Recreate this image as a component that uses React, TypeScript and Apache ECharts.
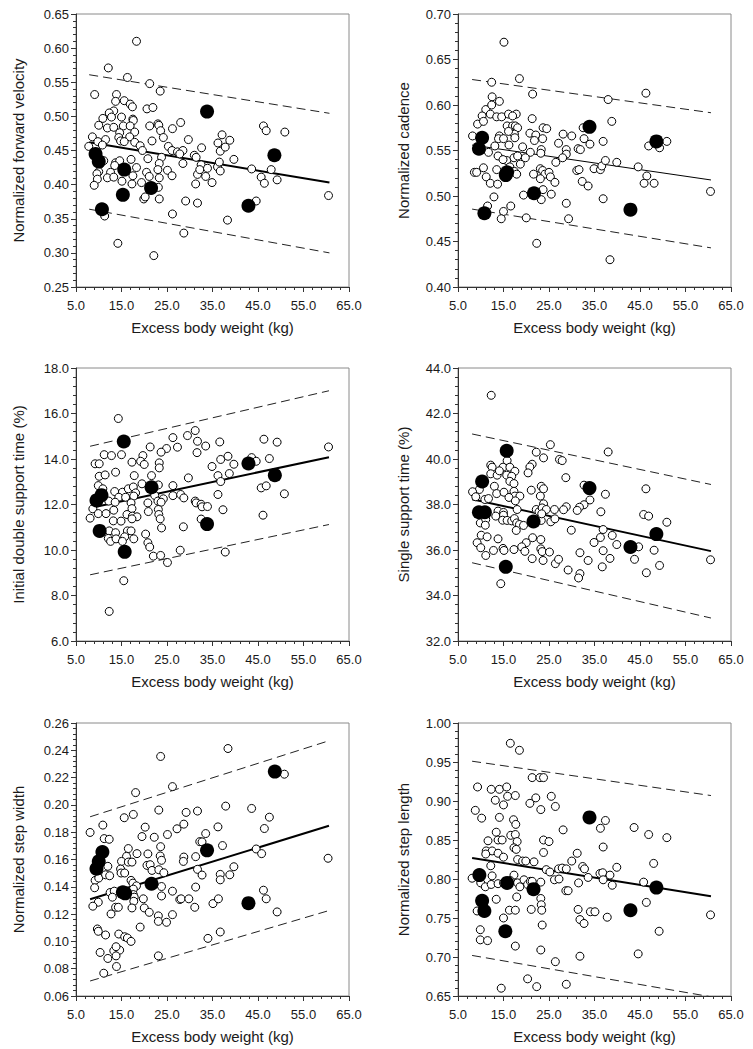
import React, { useEffect, useRef } from 'react';
import * as echarts from 'echarts';

type Pt = [number, number];

// ---------- shared x axis ----------
const xMin = 5;
const xMax = 65;
const xStep = 10;
const xTitle = 'Excess body weight (kg)';

// ---------- Panel 1: Normalized forward velocity ----------
const velTitle = 'Normalized forward velocity';
const velAxis = [0.25, 0.65, 0.05];
const velOpen: Pt[] = [
  [18.3,0.610],[12.1,0.571],[16.3,0.557],[21.2,0.548],[23.5,0.537],[9.1,0.532],[13.9,0.532],[13.7,0.522],[15.6,0.523],[16.9,0.518],
  [17.4,0.514],[20.6,0.511],[21.9,0.513],[13.3,0.508],[12.3,0.505],[10.9,0.497],[12.8,0.499],[15.0,0.499],[17.5,0.496],[17.6,0.494],
  [10.0,0.487],[11.9,0.483],[13.3,0.484],[15.4,0.486],[16.9,0.486],[21.2,0.486],[23.0,0.489],[23.2,0.487],[23.6,0.479],[26.2,0.482],
  [28.0,0.491],[14.6,0.476],[17.9,0.477],[14.4,0.469],[16.8,0.470],[24.2,0.469],[8.6,0.470],[7.8,0.456],[11.5,0.466],[9.8,0.463],
  [14.8,0.464],[15.6,0.463],[17.9,0.462],[21.7,0.464],[10.8,0.458],[19.1,0.457],[19.6,0.450],[25.3,0.456],[26.1,0.450],[27.3,0.448],
  [28.5,0.450],[29.7,0.466],[27.8,0.445],[20.8,0.438],[23.8,0.440],[23.3,0.431],[28.5,0.431],[11.1,0.435],[10.3,0.430],[13.7,0.432],
  [14.6,0.435],[17.1,0.437],[13.5,0.428],[10.0,0.419],[9.6,0.416],[12.6,0.418],[18.3,0.425],[20.5,0.418],[23.0,0.422],[25.1,0.421],
  [21.1,0.412],[23.3,0.410],[26.1,0.413],[9.7,0.408],[11.9,0.410],[13.3,0.411],[15.1,0.405],[17.3,0.401],[17.5,0.413],[19.4,0.403],
  [9.0,0.399],[23.1,0.396],[19.9,0.379],[20.2,0.382],[23.3,0.379],[29.1,0.376],[11.3,0.354],[26.2,0.357],[14.2,0.314],[28.7,0.329],
  [22.1,0.296],
  [32.6,0.454],[31.0,0.443],[31.4,0.440],[32.5,0.429],[31.7,0.415],[31.3,0.401],[32.2,0.422],[33.5,0.412],[33.9,0.424],[34.9,0.403],
  [31.7,0.373],[36.2,0.461],[37.1,0.473],[36.7,0.449],[37.8,0.455],[38.8,0.465],[36.1,0.426],[36.5,0.433],[36.7,0.420],[39.7,0.437],
  [38.3,0.348],[43.6,0.423],[44.6,0.376],[46.2,0.486],[46.8,0.479],[50.9,0.477],[45.7,0.411],[46.4,0.402],[47.9,0.422],[49.2,0.407],
  [60.5,0.384]
];
const velFilled: Pt[] = [[9.3,0.445],[10.0,0.434],[10.7,0.364],[15.6,0.422],[15.3,0.385],[21.5,0.395],[33.8,0.507],[42.9,0.369],[48.6,0.443]];
const velFit: Pt[] = [[7.9,0.462],[60.7,0.403]];
const velUpper: Pt[] = [[7.9,0.561],[60.7,0.5045]];
const velLower: Pt[] = [[7.9,0.364],[60.7,0.300]];

// ---------- Panel 2: Normalized cadence ----------
const cadTitle = 'Normalized cadence';
const cadAxis = [0.40, 0.70, 0.05];
const cadOpen: Pt[] = [
  [15.1,0.669],[18.5,0.629],[12.4,0.625],[21.4,0.612],[12.5,0.609],[14.1,0.604],[11.1,0.595],[12.4,0.600],[10.3,0.588],[12.1,0.590],
  [13.5,0.587],[14.6,0.587],[16.1,0.590],[17.8,0.590],[17.0,0.588],[9.3,0.579],[10.6,0.582],[21.3,0.585],[15.8,0.577],[17.0,0.577],
  [17.6,0.577],[18.1,0.575],[23.7,0.575],[24.5,0.574],[8.2,0.566],[14.1,0.566],[13.9,0.563],[17.4,0.568],[17.5,0.564],[15.0,0.563],
  [16.1,0.571],[20.8,0.569],[22.1,0.567],[23.6,0.563],[21.8,0.561],[27.1,0.558],[13.1,0.555],[16.2,0.556],[19.2,0.554],[20.9,0.548],
  [23.3,0.551],[23.2,0.547],[11.7,0.548],[13.8,0.544],[17.3,0.542],[18.1,0.544],[19.8,0.542],[15.7,0.539],[14.9,0.540],[26.5,0.537],
  [16.4,0.532],[18.7,0.535],[23.1,0.530],[10.6,0.531],[8.6,0.526],[9.1,0.526],[13.5,0.529],[17.4,0.527],[17.9,0.524],[21.6,0.524],
  [23.6,0.528],[24.1,0.524],[25.0,0.526],[25.3,0.521],[11.2,0.521],[12.1,0.514],[13.7,0.513],[23.1,0.519],[26.3,0.515],[12.9,0.499],
  [19.4,0.501],[25.5,0.502],[23.7,0.507],[23.3,0.496],[11.5,0.489],[16.6,0.489],[15.0,0.483],[14.5,0.475],[20.0,0.476],[22.3,0.448],
  [46.3,0.613],[38.0,0.606],[38.8,0.582],[32.5,0.575],[28.1,0.568],[30.0,0.566],[32.7,0.563],[34.0,0.557],[36.9,0.560],[28.8,0.551],
  [31.4,0.552],[31.9,0.551],[28.8,0.546],[28.0,0.542],[31.1,0.528],[31.6,0.529],[32.3,0.516],[33.6,0.511],[34.9,0.530],[36.3,0.529],
  [36.6,0.533],[37.4,0.539],[39.9,0.537],[36.9,0.497],[28.8,0.492],[29.3,0.475],[38.4,0.430],[44.6,0.532],[46.9,0.555],[49.3,0.553],
  [50.9,0.560],[46.5,0.522],[45.9,0.514],[48.1,0.514],[60.5,0.505]
];
const cadFilled: Pt[] = [[10.3,0.564],[9.6,0.552],[10.8,0.481],[15.8,0.526],[15.5,0.523],[21.7,0.503],[33.9,0.576],[42.9,0.485],[48.6,0.560]];
const cadFit: Pt[] = [[8.1,0.556],[60.6,0.5176]];
const cadUpper: Pt[] = [[8.1,0.628],[60.6,0.5915]];
const cadLower: Pt[] = [[8.1,0.4856],[60.6,0.443]];

// ---------- Panel 3: Initial double support time ----------
const idsTitle = 'Initial double support time (%)';
const idsAxis = [6, 18, 2];
const idsOpen: Pt[] = [
  [14.3,15.78],[29.5,15.03],[26.3,14.94],[21.3,14.53],[27.3,14.52],[24.9,14.46],[23.7,14.30],[15.0,14.19],[11.2,14.19],[12.8,14.15],
  [9.2,13.79],[10.1,13.79],[13.7,13.42],[17.3,13.86],[19.7,14.15],[19.2,13.90],[20.0,13.76],[23.3,13.83],[23.3,13.61],[10.1,13.24],
  [11.4,13.30],[17.8,13.27],[21.6,13.27],[29.7,13.17],[9.9,12.83],[10.9,12.69],[13.5,12.57],[15.2,12.54],[16.5,12.69],[17.6,12.77],
  [18.1,12.51],[19.5,12.91],[23.1,12.86],[26.3,12.83],[14.4,12.32],[15.9,12.32],[17.7,12.37],[22.3,12.40],[23.0,12.15],[24.2,12.25],
  [26.3,12.39],[28.0,12.44],[28.7,12.29],[12.2,12.15],[13.6,12.10],[17.1,12.07],[20.8,12.07],[23.7,12.10],[8.7,11.81],[8.1,11.40],
  [9.9,11.60],[11.6,11.60],[13.3,11.75],[17.3,11.82],[20.9,11.69],[23.1,11.78],[16.2,11.56],[17.4,11.49],[18.4,11.46],[17.3,11.37],
  [13.2,11.28],[14.9,11.27],[23.2,11.56],[23.5,11.37],[23.8,10.97],[28.6,11.02],[12.3,10.84],[13.7,10.76],[16.3,10.84],[17.1,10.84],
  [15.7,10.58],[12.1,10.51],[12.6,10.38],[13.8,10.49],[17.7,10.49],[20.3,10.70],[20.8,10.32],[21.2,10.13],[15.2,10.38],[22.0,9.73],
  [23.6,9.76],[27.9,9.99],[25.1,9.45],[15.5,8.65],[12.3,7.30],
  [31.2,15.25],[31.7,14.78],[33.5,14.57],[31.6,14.28],[36.6,14.75],[36.8,13.98],[38.4,14.12],[34.9,13.67],[39.7,13.77],[36.2,13.27],
  [38.7,13.36],[36.8,13.01],[46.3,14.87],[49.2,14.74],[43.6,14.06],[44.6,13.90],[47.5,14.02],[60.5,14.53],[45.7,12.73],[46.8,12.82],
  [50.8,12.47],[36.2,12.44],[31.2,12.15],[31.4,12.07],[32.5,12.01],[32.7,11.90],[33.9,11.91],[37.3,11.77],[32.5,11.36],[46.1,11.53],
  [37.8,9.91]
];
const idsFilled: Pt[] = [[9.5,12.18],[10.6,12.41],[10.2,10.84],[15.5,14.77],[15.7,9.92],[21.6,12.76],[33.8,11.14],[42.9,13.80],[48.7,13.29]];
const idsFit: Pt[] = [[8.1,11.85],[60.6,14.08]];
const idsUpper: Pt[] = [[8.1,14.56],[60.6,17.0]];
const idsLower: Pt[] = [[8.1,8.91],[60.6,11.12]];

// ---------- Panel 4: Single support time ----------
const sstTitle = 'Single support time (%)';
const sstAxis = [32, 44, 2];
const sstOpen: Pt[] = [
  [12.3,42.80],[25.3,40.63],[22.2,40.30],[23.8,40.05],[27.3,39.98],[12.2,39.73],[12.5,39.64],[14.9,39.64],[15.8,39.93],[16.4,39.64],
  [17.5,39.46],[21.3,39.77],[20.8,39.65],[20.4,39.39],[12.2,39.35],[13.6,39.29],[14.1,39.48],[15.7,39.29],[16.8,39.24],[16.4,39.02],
  [17.3,38.92],[13.0,38.80],[9.7,38.66],[8.2,38.56],[8.9,38.34],[13.5,38.48],[15.1,38.54],[17.3,38.58],[17.5,38.37],[18.6,38.37],
  [21.1,38.63],[23.3,38.80],[23.8,38.69],[23.1,38.37],[23.8,38.03],[10.9,38.22],[11.7,38.26],[16.2,38.31],[17.6,38.16],[18.0,37.78],
  [22.2,37.78],[22.8,37.68],[23.5,37.85],[24.4,37.78],[26.2,37.78],[13.8,37.71],[15.0,37.65],[15.0,37.53],[13.3,37.49],[14.8,37.31],
  [15.8,37.30],[16.8,37.28],[17.4,37.38],[17.9,37.19],[18.5,37.12],[19.4,37.08],[9.9,37.19],[11.1,37.34],[11.0,37.09],[17.8,36.86],
  [21.3,37.19],[23.3,37.30],[25.4,37.24],[26.3,37.37],[23.4,37.59],[9.2,36.32],[10.1,36.65],[11.4,36.58],[13.8,36.49],[20.0,36.32],
  [21.4,36.54],[23.2,36.46],[10.0,36.10],[12.8,35.98],[14.9,36.07],[15.1,35.98],[17.3,36.02],[19.0,36.14],[19.7,35.94],[23.2,36.05],
  [23.5,35.93],[25.1,35.91],[11.1,35.76],[21.3,35.62],[23.7,35.54],[26.4,35.40],[27.1,35.59],[14.4,34.52],
  [38.0,40.31],[27.9,39.93],[28.7,39.18],[32.7,38.85],[37.4,38.45],[46.3,38.69],[34.0,38.20],[32.7,37.99],[31.7,37.88],[31.2,37.74],
  [28.8,37.90],[28.2,37.77],[36.4,37.68],[45.8,37.56],[46.9,37.49],[50.9,37.22],[29.9,36.87],[36.9,36.90],[38.9,36.64],[36.3,36.55],
  [34.9,36.33],[39.9,36.24],[36.9,35.97],[31.8,35.88],[38.4,35.63],[33.6,35.54],[29.2,35.12],[31.8,34.96],[31.5,34.77],[36.7,35.26],
  [44.7,36.14],[48.1,35.99],[43.8,35.59],[46.4,35.00],[49.3,35.32],[60.5,35.57]
];
const sstFilled: Pt[] = [[10.3,39.01],[9.6,37.66],[10.9,37.66],[15.7,40.36],[15.5,35.26],[21.6,37.25],[33.9,38.72],[42.9,36.13],[48.6,36.70]];
const sstFit: Pt[] = [[8.1,38.23],[60.6,35.95]];
const sstUpper: Pt[] = [[8.1,41.10],[60.6,38.88]];
const sstLower: Pt[] = [[8.1,35.44],[60.6,33.01]];

// ---------- Panel 5: Normalized step width ----------
const swTitle = 'Normalized step width';
const swAxis = [0.06, 0.26, 0.02];
const swOpen: Pt[] = [
  [23.6,0.2355],[26.2,0.2134],[18.1,0.2090],[23.2,0.1962],[29.2,0.1945],[15.6,0.1906],[17.6,0.1930],[10.9,0.1852],[8.1,0.1798],[20.2,0.1837],
  [28.7,0.1859],[27.2,0.1825],[11.2,0.1753],[12.3,0.1748],[19.5,0.1768],[22.2,0.1763],[25.1,0.1783],[23.6,0.1694],[16.5,0.1680],[18.4,0.1643],
  [20.8,0.1641],[23.5,0.1626],[16.1,0.1623],[15.0,0.1586],[16.5,0.1581],[17.3,0.1581],[23.8,0.1594],[28.7,0.1618],[28.6,0.1586],[20.6,0.1557],
  [21.3,0.1562],[21.7,0.1520],[23.2,0.1525],[24.3,0.1503],[12.0,0.1550],[14.8,0.1530],[14.9,0.1501],[15.7,0.1501],[9.2,0.1447],[10.0,0.1464],
  [11.5,0.1488],[12.4,0.1481],[17.1,0.1447],[17.5,0.1427],[18.3,0.1407],[9.1,0.1393],[12.5,0.1358],[13.4,0.1368],[17.6,0.1383],[17.6,0.1343],
  [17.8,0.1324],[17.7,0.1294],[13.0,0.1324],[9.9,0.1287],[8.7,0.1258],[13.7,0.1250],[14.3,0.1250],[17.3,0.1245],[19.8,0.1312],[20.0,0.1245],
  [21.1,0.1213],[23.8,0.1402],[23.8,0.1333],[26.2,0.1368],[27.8,0.1307],[28.1,0.1312],[29.8,0.1312],[23.1,0.1187],[23.1,0.1147],[24.9,0.1140],
  [26.2,0.1196],[12.7,0.1201],[19.1,0.1105],[9.7,0.1091],[9.9,0.1074],[11.5,0.1047],[14.4,0.1054],[15.7,0.1034],[16.3,0.1025],[17.1,0.1000],
  [10.3,0.0919],[13.3,0.0931],[14.6,0.0936],[13.8,0.0894],[12.0,0.0875],[13.8,0.0961],[13.9,0.0816],[11.1,0.0767],[23.1,0.0894],
  [38.4,0.2413],[50.8,0.2225],[31.7,0.1955],[37.9,0.1991],[43.6,0.1974],[47.5,0.1910],[36.2,0.1839],[46.4,0.1827],[33.5,0.1790],[32.2,0.1731],
  [32.7,0.1729],[37.2,0.1702],[44.6,0.1677],[45.8,0.1643],[60.4,0.1609],[31.3,0.1621],[31.7,0.1528],[32.7,0.1486],[36.7,0.1491],[36.7,0.1451],
  [38.8,0.1488],[39.7,0.1547],[31.3,0.1398],[31.1,0.1250],[35.1,0.1277],[36.3,0.1312],[46.2,0.1375],[46.8,0.1312],[49.2,0.1216],[36.7,0.1069],
  [34.0,0.1022]
];
const swFilled: Pt[] = [[9.5,0.1532],[10.0,0.1586],[10.8,0.1655],[15.8,0.1352],[15.3,0.1360],[21.6,0.1422],[33.8,0.1667],[42.9,0.1280],[48.7,0.2244]];
const swFit: Pt[] = [[8.1,0.1309],[60.6,0.1847]];
const swUpper: Pt[] = [[8.1,0.1913],[60.6,0.247]];
const swLower: Pt[] = [[8.1,0.071],[60.6,0.1226]];

// ---------- Panel 6: Normalized step length ----------
const slTitle = 'Normalized step length';
const slAxis = [0.65, 1.00, 0.05];
const slOpen: Pt[] = [
  [16.5,0.974],[18.5,0.965],[21.3,0.930],[23.0,0.930],[23.8,0.930],[9.3,0.918],[12.3,0.915],[14.1,0.915],[15.7,0.918],[13.2,0.901],
  [15.9,0.906],[17.6,0.907],[20.8,0.897],[22.1,0.904],[25.5,0.906],[26.4,0.893],[23.2,0.889],[15.0,0.895],[8.8,0.888],[10.2,0.878],
  [14.1,0.879],[17.2,0.876],[17.7,0.870],[13.4,0.860],[16.6,0.856],[17.6,0.857],[13.8,0.850],[14.7,0.850],[11.6,0.849],[18.0,0.848],
  [23.8,0.850],[25.0,0.848],[17.3,0.840],[17.8,0.838],[11.2,0.836],[12.5,0.836],[13.8,0.833],[23.8,0.834],[11.1,0.832],[15.0,0.828],
  [18.1,0.825],[19.2,0.823],[19.9,0.823],[21.7,0.822],[12.2,0.817],[24.4,0.812],[25.2,0.809],[27.1,0.813],[8.1,0.801],[10.0,0.795],
  [11.0,0.790],[12.3,0.793],[12.5,0.804],[13.8,0.794],[15.0,0.795],[15.5,0.797],[17.3,0.805],[16.5,0.798],[18.1,0.795],[18.6,0.790],
  [19.5,0.799],[20.3,0.793],[20.9,0.797],[21.3,0.797],[23.2,0.796],[26.2,0.799],[27.2,0.800],[13.4,0.774],[17.9,0.777],[16.3,0.760],
  [17.6,0.760],[21.1,0.761],[23.2,0.775],[23.3,0.767],[23.4,0.760],[9.2,0.759],[15.0,0.750],[23.5,0.741],[9.9,0.735],[15.4,0.735],
  [9.9,0.722],[11.5,0.721],[17.6,0.714],[23.2,0.709],[26.4,0.694],[20.3,0.672],[22.3,0.662],[14.5,0.660],
  [28.1,0.863],[37.4,0.875],[36.3,0.865],[43.7,0.866],[46.9,0.857],[50.9,0.853],[36.9,0.841],[31.2,0.833],[30.0,0.823],[27.9,0.814],
  [28.8,0.813],[32.4,0.816],[32.8,0.813],[33.6,0.802],[36.2,0.807],[36.8,0.808],[38.4,0.805],[39.9,0.815],[36.9,0.799],[38.9,0.792],
  [28.7,0.785],[29.2,0.785],[31.5,0.795],[48.0,0.820],[45.8,0.796],[46.4,0.770],[31.4,0.761],[31.8,0.748],[32.7,0.743],[34.1,0.758],
  [35.1,0.758],[37.8,0.751],[49.2,0.733],[60.5,0.754],[44.6,0.704],[31.8,0.701],[28.8,0.665]
];
const slFilled: Pt[] = [[9.7,0.805],[10.3,0.772],[10.8,0.759],[15.8,0.795],[15.4,0.733],[21.6,0.787],[33.9,0.879],[42.9,0.760],[48.6,0.789]];
const slFit: Pt[] = [[8.1,0.827],[60.6,0.778]];
const slUpper: Pt[] = [[8.1,0.951],[60.6,0.907]];
const slLower: Pt[] = [[8.1,0.702],[60.6,0.649]];

const panelData = [
  { title: velTitle, axis: velAxis, digits: 2, open: velOpen, filled: velFilled, fit: velFit, upper: velUpper, lower: velLower },
  { title: cadTitle, axis: cadAxis, digits: 2, open: cadOpen, filled: cadFilled, fit: cadFit, upper: cadUpper, lower: cadLower },
  { title: idsTitle, axis: idsAxis, digits: 1, open: idsOpen, filled: idsFilled, fit: idsFit, upper: idsUpper, lower: idsLower },
  { title: sstTitle, axis: sstAxis, digits: 1, open: sstOpen, filled: sstFilled, fit: sstFit, upper: sstUpper, lower: sstLower },
  { title: swTitle, axis: swAxis, digits: 2, open: swOpen, filled: swFilled, fit: swFit, upper: swUpper, lower: swLower },
  { title: slTitle, axis: slAxis, digits: 2, open: slOpen, filled: slFilled, fit: slFit, upper: slUpper, lower: slLower },
];

// layout (pixels)
const layout = [
  { left: 76, top: 14, nameGap: 50, fitWidth: 2 },
  { left: 458, top: 14, nameGap: 47, fitWidth: 1 },
  { left: 76, top: 368, nameGap: 50, fitWidth: 2 },
  { left: 458, top: 368, nameGap: 47, fitWidth: 2 },
  { left: 76, top: 723, nameGap: 50, fitWidth: 2 },
  { left: 458, top: 723, nameGap: 47, fitWidth: 2 },
];
const plotW = 273;
const plotH = 273;
const FONT = '"Liberation Sans", Arial, Helvetica, sans-serif';
const TEXT = '#1a1a1a';
const AXIS = '#333';

export default function App() {
  const ref = useRef<HTMLDivElement>(null);
  useEffect(() => {
    document.body.style.margin = '0';
    if (!ref.current) return;
    const chart = echarts.init(ref.current, undefined, { renderer: 'svg' });

    const grid: any[] = [];
    const xAxis: any[] = [];
    const yAxis: any[] = [];
    const series: any[] = [];

    panelData.forEach((p, i) => {
      const L = layout[i];
      grid.push({
        left: L.left, top: L.top, width: plotW, height: plotH,
        show: true, borderColor: '#8a8a8a', borderWidth: 1, backgroundColor: 'transparent',
        containLabel: false,
      });
      xAxis.push({
        type: 'value', gridIndex: i, min: xMin, max: xMax, interval: xStep,
        name: xTitle, nameLocation: 'middle', nameGap: 33,
        nameTextStyle: { fontSize: 15, color: TEXT, fontFamily: FONT },
        axisLine: { show: true, onZero: false, lineStyle: { color: AXIS, width: 1 } },
        axisTick: { show: true, inside: false, length: 5, lineStyle: { color: AXIS } },
        minorTick: { show: true, splitNumber: 5, length: 3, lineStyle: { color: AXIS } },
        splitLine: { show: false },
        axisLabel: { fontSize: 13, color: TEXT, fontFamily: FONT, margin: 12, formatter: (v: number) => v.toFixed(1) },
      });
      const [yMin, yMax, yStep] = p.axis;
      yAxis.push({
        type: 'value', gridIndex: i, min: yMin, max: yMax, interval: yStep,
        name: p.title, nameLocation: 'middle', nameGap: L.nameGap, nameRotate: 90,
        nameTextStyle: { fontSize: 15, color: TEXT, fontFamily: FONT },
        axisLine: { show: true, onZero: false, lineStyle: { color: AXIS, width: 1 } },
        axisTick: { show: true, inside: false, length: 5, lineStyle: { color: AXIS } },
        minorTick: { show: true, splitNumber: 5, length: 3, lineStyle: { color: AXIS } },
        splitLine: { show: false },
        axisLabel: { fontSize: 13, color: TEXT, fontFamily: FONT, margin: 7, formatter: (v: number) => v.toFixed(p.digits) },
      });
      const dash = { color: '#222', width: 1, type: [9, 5] };
      series.push({ type: 'line', xAxisIndex: i, yAxisIndex: i, data: p.upper, symbol: 'none', lineStyle: dash, silent: true, z: 2 });
      series.push({ type: 'line', xAxisIndex: i, yAxisIndex: i, data: p.lower, symbol: 'none', lineStyle: dash, silent: true, z: 2 });
      series.push({ type: 'line', xAxisIndex: i, yAxisIndex: i, data: p.fit, symbol: 'none', lineStyle: { color: '#000', width: L.fitWidth }, silent: true, z: 2 });
      series.push({
        type: 'scatter', xAxisIndex: i, yAxisIndex: i, data: p.open, symbol: 'circle', symbolSize: 8,
        itemStyle: { color: '#fff', borderColor: '#000', borderWidth: 1, opacity: 1 }, silent: true, z: 3,
      });
      series.push({
        type: 'scatter', xAxisIndex: i, yAxisIndex: i, data: p.filled, symbol: 'circle', symbolSize: 14,
        itemStyle: { color: '#000', borderColor: '#000', borderWidth: 0, opacity: 1 }, silent: true, z: 4,
      });
    });

    chart.setOption({ animation: false, backgroundColor: '#fff', grid, xAxis, yAxis, series });
    return () => chart.dispose();
  }, []);
  return <div ref={ref} style={{ width: 753, height: 1049 }} />;
}
